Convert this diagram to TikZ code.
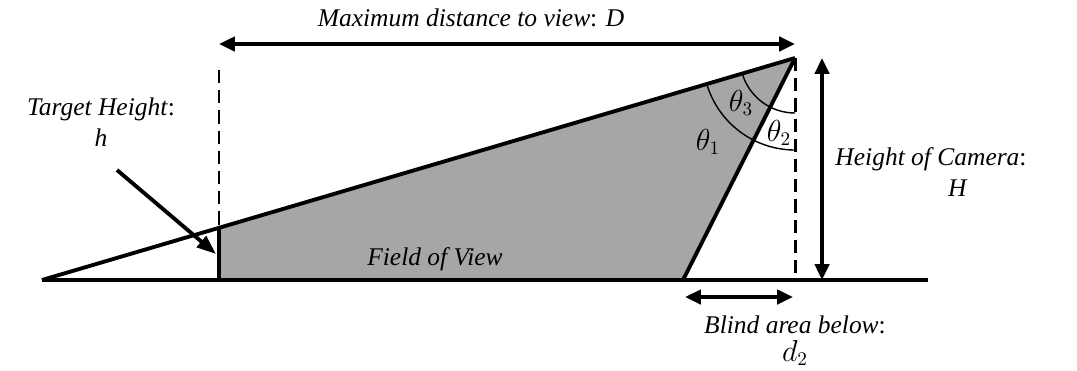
\documentclass[tikz,border=0pt]{standalone}
\usepackage{amsmath}
\usepackage{fontspec}
\setmainfont{Liberation Serif}
\usetikzlibrary{arrows.meta}
\definecolor{fovgray}{RGB}{166, 166, 166}

\tikzset{
  heavy/.style={line width=2.2pt},
  dimarrow/.style={line width=2.2pt, {Triangle[length=9pt, width=8pt]}-{Triangle[length=9pt, width=8pt]}},
  dashline/.style={line width=1.7pt, dash pattern=on 7.5pt off 4pt},
  anglearc/.style={line width=0.8pt},
  anglelbl/.style={font=\fontsize{16}{18}\selectfont}
}

\begin{document}
\begin{tikzpicture}[x=0.02cm, y=0.02cm, font=\fontsize{14.5}{17}\selectfont, inner sep=1pt]
  \useasboundingbox (0,0) rectangle (1077,370);

  % Key points
  \coordinate (apex) at (42,90);
  \coordinate (groundR) at (928,90);
  \coordinate (cam) at (795,312);
  \coordinate (camB) at (795,90);
  \coordinate (tgtB) at (219,90);
  \coordinate (tgtT) at (219,142);
  \coordinate (tgtD) at (219,300);
  \coordinate (blind) at (683,90);

  % Field of view
  \fill[fovgray] (tgtB) -- (tgtT) -- (cam) -- (blind) -- cycle;
  \node (fov) at (435,111) {\textit{Field of View}};

  % Dashed guides
  \draw[dashline] (tgtD) -- (tgtT);
  \draw[dashline] (cam) -- (camB);

  % Angle arcs
  \draw[anglearc] (cam) ++(196.4:92) arc[start angle=196.4, end angle=270, radius=92];
  \draw[anglearc] (cam) ++(196.4:55) arc[start angle=196.4, end angle=270, radius=55];
  \node[anglelbl] (th1) at (708,228) {$\theta_1$};
  \node[anglelbl] (th2) at (779,237) {$\theta_2$};
  \node[anglelbl] (th3) at (741,267) {$\theta_3$};

  % Ground and lines of sight
  \draw[heavy] (apex) -- (groundR);
  \draw[heavy] (apex) -- (cam);
  \draw[heavy] (cam) -- (blind);
  \draw[heavy] (tgtB) -- (tgtT);

  % Maximum distance
  \coordinate (dL) at (219,326);
  \coordinate (dR) at (795,326);
  \draw[dimarrow] (dL) -- (dR);
  \node (dist) at (471,352) {\textit{Maximum distance to view}: \textit{D}};

  % Camera height
  \coordinate (hT) at (822,312);
  \coordinate (hB) at (822,90);
  \draw[dimarrow] (hT) -- (hB);
  \node (camtxt) at (931,211) {\textit{Height of Camera}:};
  \node (camH) at (958,182) {\textit{H}};

  % Target height
  \node (tgttxt) at (101,261) {\textit{Target Height}:};
  \node (tgth) at (101,232) {\textit{h}};
  \coordinate (tA) at (117,200);
  \coordinate (tB) at (216,116);
  \draw[heavy, -{Triangle[length=11pt, width=8pt]}] (tA) -- (tB);

  % Blind area
  \coordinate (bL) at (685,73);
  \coordinate (bR) at (793,73);
  \draw[dimarrow] (bL) -- (bR);
  \node (blindtxt) at (795,45) {\textit{Blind area below}:};
  \node[anglelbl] (blindd) at (795,17) {$d_2$};
\end{tikzpicture}
\end{document}
